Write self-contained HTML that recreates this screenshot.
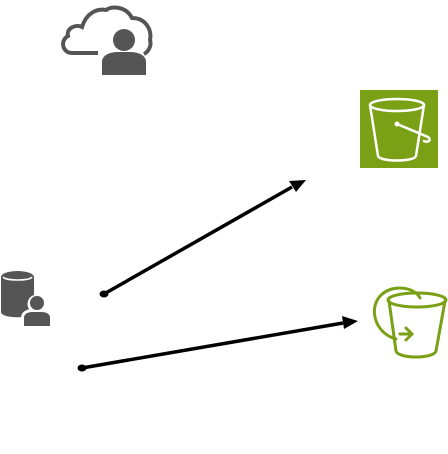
<!DOCTYPE html>
<html><head><style>html,body{margin:0;padding:0;background:#fff;width:448px;height:454px;overflow:hidden}</style></head>
<body>
<svg width="448" height="454" viewBox="0 0 448 454" xmlns="http://www.w3.org/2000/svg">
<!-- cloud user -->
<path d="M98,53 H72 C62,53 60,40 68,36 C66,28 76,24 82,27 C86,14 96,8 106,10 C112,6 126,6 132,18 C146,18 152,30 150,40 C152,46 148,52 144,54" fill="none" stroke="#555" stroke-width="4"/>
<circle cx="124" cy="40" r="11" fill="#555"/>
<path d="M102,75 V62 C102,55 110,52 118,52 H130 C138,52 146,55 146,62 V75 Z" fill="#555"/>
<!-- db user -->
<path d="M1,277 V312 C1,319 34,319 34,312 V277 Z" fill="#555"/>
<ellipse cx="17.5" cy="277" rx="16.5" ry="6" fill="#555"/>
<path d="M3,277 C6,281 30,281 32,277" fill="none" stroke="#fff" stroke-width="1.5"/>
<circle cx="37" cy="304" r="9.5" fill="#fff"/>
<path d="M21,327 V318 C21,311 28,309 33,309 H41 C47,309 53,311 53,318 V327 Z" fill="#fff"/>
<circle cx="37" cy="303" r="7" fill="#555"/>
<path d="M24,326 V318 C24,313 29,312 33,312 H41 C45,312 50,313 50,318 V326 Z" fill="#555"/>
<!-- S3 square -->
<rect x="360" y="90" width="78" height="78" fill="#7aa116"/>
<g fill="none" stroke="#fff" stroke-width="2.5" stroke-linecap="round">
<ellipse cx="397" cy="105" rx="27" ry="6"/>
<path d="M370,105 L378,156 C380,162 414,162 416,156 L424,105"/>
<path d="M397,124 L428,137 C432,140 428,143 424,141"/>
</g>
<circle cx="397" cy="124" r="2.5" fill="#fff"/>
<!-- second bucket -->
<g fill="none" stroke="#7aa116" stroke-width="3" stroke-linecap="round">
<path d="M396,339 C370,332 366,296 392,289 C404,286 416,290 420,298"/>
<ellipse cx="417" cy="300" rx="29" ry="7"/>
<path d="M389,301 L396,351 C398,359 434,359 436,351 L445,301"/>
<path d="M400,334 L411,334 M406,328 L412,334 L406,340"/>
</g>
<!-- arrows -->
<g stroke="#000" stroke-width="3.5" fill="#000">
<line x1="104" y1="294" x2="292" y2="187"/>
<line x1="82" y1="368" x2="343" y2="323"/>
</g>
<polygon points="306,180 289,181 296,192" fill="#000"/>
<polygon points="358,321 342,316 344,329" fill="#000"/>
<ellipse cx="104" cy="294" rx="4.5" ry="3.5" fill="#000"/>
<ellipse cx="82" cy="368" rx="4.5" ry="3.5" fill="#000"/>
</svg>
</body></html>
